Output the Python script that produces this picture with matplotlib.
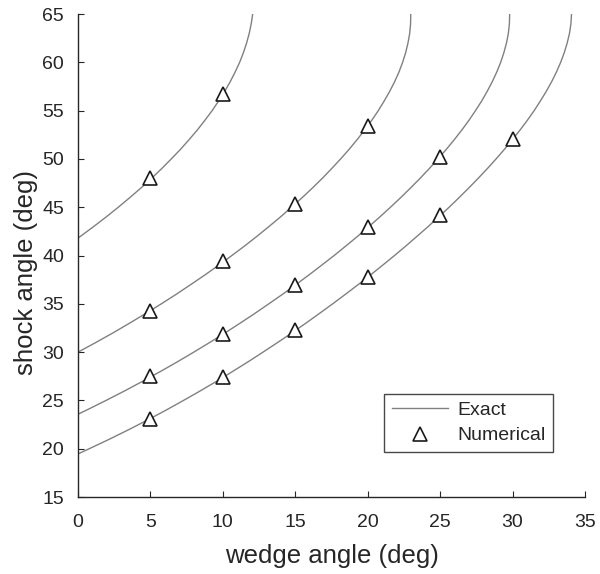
import matplotlib
matplotlib.use("Agg")
import matplotlib.pyplot as plt

plt.rcParams['font.family'] = ['Liberation Sans', 'DejaVu Sans']

# Exact theta-beta-M curves (wedge angle, shock angle), one per Mach number
mach = [1.5, 2.0, 2.5, 3.0]

beta_m15 = [41.81, 42, 43, 44, 45, 46, 47, 48, 49, 50, 51, 52, 53, 54, 55, 56, 57, 58, 59, 60,
            61, 62, 63, 64, 65]
theta_m15 = [0.00, 0.18, 1.08, 1.95, 2.78, 3.58, 4.35, 5.08, 5.78, 6.44, 7.08, 7.67, 8.24, 8.76,
             9.26, 9.71, 10.13, 10.51, 10.85, 11.16, 11.42, 11.64, 11.82, 11.96, 12.06]

beta_m20 = [30, 31, 32, 33, 34, 35, 36, 37, 38, 39, 40, 41, 42, 43, 44, 45, 46, 47, 48, 49, 50,
            51, 52, 53, 54, 55, 56, 57, 58, 59, 60, 61, 62, 63, 64, 65]
theta_m20 = [0.00, 1.23, 2.42, 3.56, 4.67, 5.75, 6.79, 7.79, 8.77, 9.71, 10.62, 11.51, 12.36,
             13.18, 13.98, 14.74, 15.48, 16.19, 16.87, 17.51, 18.13, 18.72, 19.27, 19.79, 20.28,
             20.73, 21.14, 21.52, 21.86, 22.16, 22.41, 22.62, 22.78, 22.90, 22.96, 22.97]

beta_m25 = [23.58, 24, 25, 26, 27, 28, 29, 30, 31, 32, 33, 34, 35, 36, 37, 38, 39, 40, 41, 42, 43,
            44, 45, 46, 47, 48, 49, 50, 51, 52, 53, 54, 55, 56, 57, 58, 59, 60, 61, 62, 63, 64, 65]
theta_m25 = [0.00, 0.59, 1.93, 3.23, 4.48, 5.69, 6.86, 7.99, 9.09, 10.16, 11.19, 12.20, 13.17,
             14.13, 15.05, 15.95, 16.82, 17.68, 18.50, 19.31, 20.08, 20.84, 21.57, 22.28, 22.96,
             23.62, 24.25, 24.85, 25.43, 25.98, 26.50, 26.99, 27.44, 27.87, 28.25, 28.60, 28.91,
             29.18, 29.40, 29.58, 29.71, 29.78, 29.80]

beta_m30 = [19.47, 20, 21, 22, 23, 24, 25, 26, 27, 28, 29, 30, 31, 32, 33, 34, 35, 36, 37, 38, 39,
            40, 41, 42, 43, 44, 45, 46, 47, 48, 49, 50, 51, 52, 53, 54, 55, 56, 57, 58, 59, 60, 61,
            62, 63, 64, 65]
theta_m30 = [0.00, 0.77, 2.18, 3.53, 4.83, 6.08, 7.28, 8.45, 9.58, 10.67, 11.74, 12.77, 13.78,
             14.77, 15.73, 16.66, 17.58, 18.47, 19.35, 20.20, 21.03, 21.85, 22.64, 23.41, 24.17,
             24.90, 25.62, 26.31, 26.98, 27.63, 28.26, 28.86, 29.44, 29.99, 30.52, 31.02, 31.49,
             31.92, 32.33, 32.70, 33.03, 33.32, 33.57, 33.77, 33.93, 34.03, 34.07]

# Numerical results
num_theta_m15 = [5, 10]
num_beta_m15 = [48.0, 56.7]
num_theta_m20 = [5, 10, 15, 20]
num_beta_m20 = [34.3, 39.4, 45.3, 53.4]
num_theta_m25 = [5, 10, 15, 20, 25]
num_beta_m25 = [27.5, 31.9, 37.0, 43.0, 50.2]
num_theta_m30 = [5, 10, 15, 20, 25, 30]
num_beta_m30 = [23.1, 27.4, 32.3, 37.8, 44.2, 52.1]

xticks = [0, 5, 10, 15, 20, 25, 30, 35]
yticks = [15, 20, 25, 30, 35, 40, 45, 50, 55, 60, 65]

exact = [(theta_m15, beta_m15), (theta_m20, beta_m20), (theta_m25, beta_m25), (theta_m30, beta_m30)]
numerical = [(num_theta_m15, num_beta_m15), (num_theta_m20, num_beta_m20),
             (num_theta_m25, num_beta_m25), (num_theta_m30, num_beta_m30)]

fig = plt.figure(figsize=(6.0, 5.74), dpi=100)
ax = fig.add_axes([0.13, 0.134, 0.845, 0.8416])

txt = '#262626'
for i, (t, b) in enumerate(exact):
    ax.plot(t, b, color='#808080', lw=1.0, label='Exact' if i == 0 else None, zorder=2)
for i, (t, b) in enumerate(numerical):
    ax.plot(t, b, linestyle='none', marker='^', markersize=10.5, markerfacecolor='white',
            markeredgecolor='#1a1a1a', markeredgewidth=1.2,
            label='Numerical' if i == 0 else None, zorder=3)

ax.set_xlim(0, 35)
ax.set_ylim(15, 65)
ax.set_xticks(xticks)
ax.set_yticks(yticks)
ax.spines['top'].set_visible(False)
ax.spines['right'].set_visible(False)
for sp in ('left', 'bottom'):
    ax.spines[sp].set_color(txt)
    ax.spines[sp].set_linewidth(1.0)
ax.tick_params(direction='in', length=4, width=0.8, colors=txt, labelsize=14)
ax.tick_params(axis='y', pad=10)
ax.tick_params(axis='x', pad=12)
ax.set_xlabel('wedge angle (deg)', fontsize=18.5, color=txt)
ax.set_ylabel('shock angle (deg)', fontsize=18.5, color=txt)
ax.xaxis.set_label_coords(0.5, -0.097)
ax.yaxis.set_label_coords(-0.079, 0.464)

leg = ax.legend(loc='lower right', bbox_to_anchor=(0.937, 0.093), borderaxespad=0,
                fontsize=14, frameon=True, fancybox=False, handlelength=2.9,
                handletextpad=0.45, borderpad=0.4, labelspacing=0.4)
leg.get_frame().set_edgecolor('#1a1a1a')
leg.get_frame().set_linewidth(1.0)
for t in leg.get_texts():
    t.set_color(txt)

fig.savefig('out.png', dpi=100)
